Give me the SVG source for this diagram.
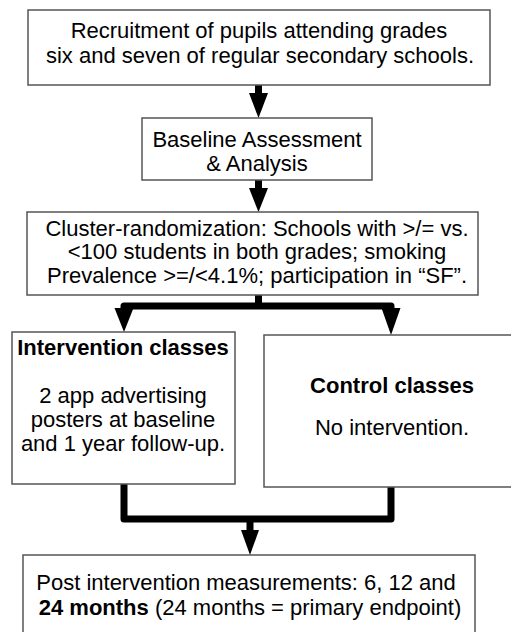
<svg xmlns="http://www.w3.org/2000/svg" width="511" height="632" viewBox="0 0 511 632">
<style>
.box{fill:#fff;stroke:#555;stroke-width:1.5}
text{font-family:"Liberation Sans",Arial,sans-serif;font-size:22px;fill:#000;text-anchor:middle}
.b{font-weight:bold}
.ln{fill:none;stroke:#000;stroke-width:7;stroke-linejoin:round}
.hd{fill:#000;stroke:none}
</style>
<rect width="511" height="632" fill="#fff"/>
<g id="connectors">
<line class="ln" x1="258.5" y1="85" x2="258.5" y2="96"/>
<polygon class="hd" points="249,93 268,93 258.5,118"/>
<line class="ln" x1="258.5" y1="180" x2="258.5" y2="191"/>
<polygon class="hd" points="249,188 268,188 258.5,212"/>
<polyline class="ln" points="258.5,295 258.5,306"/>
<polyline class="ln" points="124,316 124,306 391,306 391,316"/>
<polygon class="hd" points="114.5,308 133.5,308 124,332"/>
<polygon class="hd" points="381.5,308 400.5,308 391,335"/>
<polyline class="ln" points="124,484 124,519 391,519 391,487"/>
<line class="ln" x1="250" y1="519" x2="250" y2="533"/>
<polygon class="hd" points="241,530 259,530 250,555"/>
</g>
<g id="recruitment">
<rect class="box" x="28" y="10" width="462" height="75"/>
<text x="259" y="38">Recruitment of pupils attending grades</text>
<text x="260" y="63">six and seven of regular secondary schools.</text>
</g>
<g id="baseline">
<rect class="box" x="142" y="118" width="230" height="62"/>
<text x="257" y="147">Baseline Assessment</text>
<text x="257" y="171">&amp; Analysis</text>
</g>
<g id="randomization">
<rect class="box" x="27" y="212" width="451" height="83"/>
<text x="257" y="236">Cluster-randomization: Schools with &gt;/= vs.</text>
<text x="257" y="259">&lt;100 students in both grades; smoking</text>
<text x="257" y="283">Prevalence &gt;=/&lt;4.1%; participation in “SF”.</text>
</g>
<g id="intervention">
<rect class="box" x="12" y="332" width="223" height="152"/>
<text class="b" x="123" y="355">Intervention classes</text>
<text x="123" y="403">2 app advertising</text>
<text x="123" y="427">posters at baseline</text>
<text x="123" y="451">and 1 year follow-up.</text>
</g>
<g id="control">
<rect class="box" x="264" y="335" width="260" height="152"/>
<text class="b" x="392" y="393">Control classes</text>
<text x="392" y="435">No intervention.</text>
</g>
<g id="post">
<rect class="box" x="23" y="555" width="452" height="90"/>
<text x="246" y="590">Post intervention measurements: 6, 12 and</text>
<text x="250" y="615"><tspan class="b">24 months</tspan> (24 months = primary endpoint)</text>
</g>
</svg>
